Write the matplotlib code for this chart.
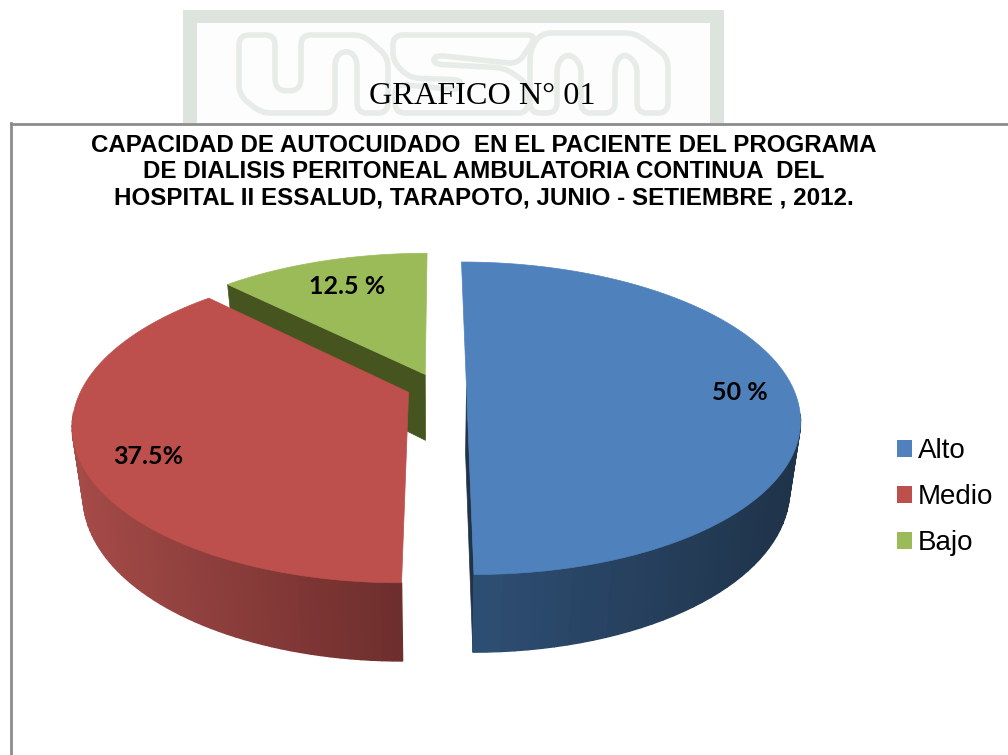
import matplotlib
matplotlib.use('Agg')
import matplotlib.pyplot as plt
import numpy as np
from matplotlib.patches import Rectangle, PathPatch
from matplotlib.path import Path

# chart data
categories = ['Alto', 'Medio', 'Bajo']
values = [50, 37.5, 12.5]
value_labels = ['50 %', '37.5%', '12.5 %']

top_colors = ['#4f81bd', '#bd4f4c', '#9bbb59']
side_left = ['#2e4f75', '#a54b48', '#46551f']
side_right = ['#1f3349', '#6e2e2d', '#46551f']
wall_colors = ['#1f3349', '#6e2e2d', '#46551f']
wall_edges = [[1], [], [0]]  # which cut face of each wedge can be seen
label_pos = [(740, 393), (148, 456), (347, 286)]

# pie geometry, in pixels
cx, cy = 436.5, 387
a, b = 326, 150
k = 0.2
explode = 0.092
depth = 68.7
shrink = 0.97


def project(X, Y, low=False):
    w = 1 + k * Y
    x = cx + a * X / w
    y = cy - b * Y / w
    if low:
        x = cx + (x - cx) * shrink
        y = cy + (y - cy) * shrink + depth * shrink / w
    return x, y


def rounded(points, r=10):
    # closed outline with rounded corners
    verts, codes = [], []
    pts = [np.array(p, float) for p in points]
    n = len(pts)
    for i in range(n):
        p0, p1, p2 = pts[i - 1], pts[i], pts[(i + 1) % n]
        d1 = (p0 - p1) / np.linalg.norm(p0 - p1)
        d2 = (p2 - p1) / np.linalg.norm(p2 - p1)
        r1 = min(r, np.linalg.norm(p0 - p1) / 2)
        r2 = min(r, np.linalg.norm(p2 - p1) / 2)
        verts += [p1 + d1 * r1, p1, p1 + d2 * r2]
        codes += [Path.LINETO if i else Path.MOVETO, Path.CURVE3, Path.CURVE3]
    verts.append(verts[0])
    codes.append(Path.CLOSEPOLY)
    return Path(verts, codes)


fig = plt.figure(figsize=(10.08, 7.55), dpi=100)
ax = fig.add_axes([0, 0, 1, 1])
ax.set_xlim(0, 1008)
ax.set_ylim(755, 0)
ax.axis('off')

# watermark behind the heading
ax.add_patch(Rectangle((183, 10), 541, 113, fc='#dde3dd', ec='none', zorder=1))
ax.add_patch(Rectangle((197, 23), 513, 100, fc='#fcfdfc', ec='none', zorder=1))
mark = '#e8ece8'
outlines = [
    [(239, 35), (275, 35), (275, 88), (288, 92), (301, 88), (301, 35), (363, 35), (388, 57),
     (388, 113), (357, 113), (357, 57), (346, 50), (335, 57), (335, 113), (261, 113), (239, 95)],
    [(393, 35), (537, 35), (518, 64), (435, 55), (433, 64), (505, 68), (528, 84), (528, 113),
     (395, 113), (395, 84), (460, 90), (462, 80), (410, 78), (393, 62)],
    [(541, 33), (635, 33), (668, 57), (668, 113), (637, 113), (637, 63), (624, 53), (615, 63),
     (615, 113), (581, 113), (581, 63), (568, 53), (557, 63), (557, 113), (530, 113), (530, 50)],
]
for outline in outlines:
    ax.add_patch(PathPatch(rounded(outline), fc='none', ec=mark, lw=4, zorder=1.5))

ax.text(482, 97, 'GRAFICO N° 01', family='Liberation Serif', fontsize=23.2, ha='center', va='center',
        color='black', zorder=2)

# chart border, open on the right and at the bottom
ax.plot([11, 1008], [123.5, 123.5], color='#8c8c8c', lw=2, zorder=2)
ax.plot([11, 11], [123, 755], color='#8c8c8c', lw=2, zorder=2)

ax.text(484, 172, 'CAPACIDAD DE AUTOCUIDADO  EN EL PACIENTE DEL PROGRAMA\n'
                  'DE DIALISIS PERITONEAL AMBULATORIA CONTINUA  DEL\n'
                  'HOSPITAL II ESSALUD, TARAPOTO, JUNIO - SETIEMBRE , 2012.',
        family='Liberation Sans', fontweight='bold', fontsize=17.4, ha='center', va='center',
        linespacing=1.18, zorder=3)

# wedge angles come from the values, clockwise from the top
edges = np.cumsum([0] + values) / sum(values) * 2 * np.pi
for i in [2, 0, 1]:
    t0, t1 = edges[i], edges[i + 1]
    mid = (t0 + t1) / 2
    ex, ey = explode * np.sin(mid), explode * np.cos(mid)
    t = np.linspace(t0, t1, 91)
    X, Y = ex + np.sin(t), ey + np.cos(t)

    # cut faces
    for e in wall_edges[i]:
        tt = [t0, t1][e]
        ex2, ey2 = ex + np.sin(tt), ey + np.cos(tt)
        xa, ya = project(ex, ey)
        xb, yb = project(ex2, ey2)
        xc, yc = project(ex2, ey2, low=True)
        xd, yd = project(ex, ey, low=True)
        ax.fill([xa, xb, xc, xd], [ya, yb, yc, yd], color=wall_colors[i], lw=0.5, zorder=4)

    # outer wall, shaded along x; only the near part of the rim shows
    xt, yt = project(X, Y)
    xl, yl = project(X, Y, low=True)
    c0 = np.array(matplotlib.colors.to_rgb(side_left[i]))
    c1 = np.array(matplotlib.colors.to_rgb(side_right[i]))
    front = np.where(Y < -0.15)[0]
    if len(front) > 1:
        span = max(xt[front].max() - xt[front].min(), 1)
        for j in front[:-1]:
            s = (xt[j] - xt[front].min()) / span
            col = c0 + (c1 - c0) * s
            ax.fill([xt[j], xt[j + 1], xl[j + 1], xl[j]], [yt[j], yt[j + 1], yl[j + 1], yl[j]],
                    color=col, lw=1, zorder=4)

    # top face
    xa, ya = project(ex, ey)
    ax.fill(np.r_[xa, xt], np.r_[ya, yt], color=top_colors[i], lw=0.5, zorder=4)
    ax.text(label_pos[i][0], label_pos[i][1], value_labels[i], family='Lato', fontweight='bold',
            fontsize=18, ha='center', va='center', color='black', zorder=6)

handles = [Rectangle((0, 0), 1, 1, fc=c, ec='none') for c in top_colors]
ax.legend(handles, categories, loc='center left', bbox_to_anchor=(897 / 1008, 1 - 497 / 755),
          frameon=False, prop={'family': 'Liberation Sans', 'size': 20}, handlelength=0.55,
          handleheight=0.55, handletextpad=0.2, labelspacing=0.72, borderpad=0, borderaxespad=0)

plt.savefig('out.png', dpi=100)
plt.close()
